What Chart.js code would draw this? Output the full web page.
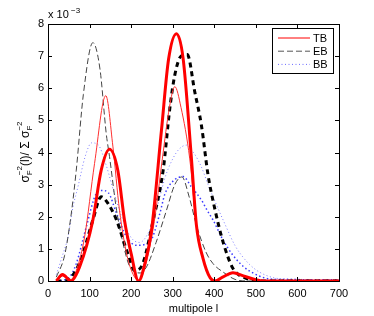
<!DOCTYPE html>
<html>
<head>
<meta charset="utf-8">
<script src="https://cdn.jsdelivr.net/npm/chart.js@4/dist/chart.umd.min.js"></script>
<style>
  body { margin: 0; background: #fff; }
  canvas { display: block; }
</style>
</head>
<body>
<canvas id="grafico" width="374" height="316"></canvas>
<script>
// multipole l values and sigma_F^-2 share (in units of 1e-3)
const tbThickL = [20, 35, 55, 76, 108, 128, 148, 168, 184, 200, 218, 233, 249, 273, 290, 309, 325, 345, 357, 373, 390, 402, 420, 445, 470, 500, 520, 700];
const tbThickV = [0, 0.2, 0, 0.44, 1.9, 3.45, 4.1, 3.44, 1.89, 0.85, 0, 0.54, 1.58, 4.7, 6.9, 7.7, 6.93, 3.82, 1.74, 0.7, 0.1, 0, 0.12, 0.26, 0.16, 0.04, 0, 0];

const tbThinL = [20, 35, 55, 70, 88, 112, 139, 156, 172, 190, 205, 218, 235, 255, 275, 292, 305, 320, 341, 357, 373, 390, 402, 420, 445, 470, 500, 520, 700];
const tbThinV = [0, 0.15, 0.05, 0.4, 1.37, 3.66, 5.77, 4.2, 2.2, 0.8, 0.2, 0.02, 0.5, 1.8, 3.8, 5.4, 6.05, 5.4, 3.8, 1.74, 0.7, 0.12, 0.02, 0.12, 0.25, 0.16, 0.04, 0, 0];

const ebThinL = [20, 40, 55, 68, 85, 108, 125, 140, 148, 165, 180, 197, 222, 237, 260, 285, 305, 322, 340, 357, 380, 397, 421, 450, 480, 700];
const ebThinV = [0.12, 0.8, 2.0, 3.45, 5.8, 7.42, 6.6, 4.6, 3.87, 2.2, 1.2, 0.44, 0.25, 0.44, 1.2, 2.2, 3.0, 3.24, 2.6, 1.74, 0.9, 0.54, 0.28, 0.05, 0, 0];

const ebThickL = [20, 40, 52, 70, 84, 108, 128, 145, 165, 192, 209, 228, 253, 277, 293, 305, 320, 335, 353, 369, 385, 401, 421, 445, 477, 500, 700];
const ebThickV = [0, 0, 0.07, 0.4, 0.85, 1.9, 2.62, 2.4, 1.89, 0.85, 0.33, 0.54, 1.89, 3.45, 5.37, 6.41, 7.0, 7.05, 5.89, 4.85, 3.3, 2.26, 1.22, 0.39, 0.08, 0, 0];

const bbUpperL = [20, 35, 48, 60, 72, 90, 105, 120, 140, 160, 180, 200, 220, 245, 265, 281, 300, 315, 333, 350, 369, 385, 401, 425, 450, 475, 500, 530, 560, 700];
const bbUpperV = [0.2, 0.8, 1.37, 2.3, 2.93, 3.9, 4.3, 4.25, 3.6, 2.7, 1.9, 1.35, 1.2, 1.6, 2.4, 3.2, 3.8, 4.1, 4.23, 4.0, 3.55, 3.0, 2.5, 1.79, 1.1, 0.65, 0.35, 0.15, 0.07, 0.04];

const bbLowerL = [20, 50, 68, 92, 116, 130, 145, 165, 189, 213, 245, 269, 281, 300, 325, 345, 369, 385, 397, 420, 445, 470, 493, 520, 550, 700];
const bbLowerV = [0, 0.1, 0.54, 1.68, 2.72, 2.82, 2.75, 2.1, 1.37, 1.11, 1.22, 2.1, 2.7, 3.1, 3.25, 2.93, 2.52, 2.15, 1.9, 1.3, 0.8, 0.45, 0.25, 0.1, 0.05, 0.04];

const xTicks = [0, 100, 200, 300, 400, 500, 600, 700];
const yTicks = [0, 1, 2, 3, 4, 5, 6, 7, 8];
const legendNames = ['TB', 'EB', 'BB'];

function pts(ls, vs) {
  return ls.map((l, i) => ({ x: l, y: vs[i] }));
}

const fuente = '"Liberation Sans", Arial, sans-serif';

function serie(ls, vs, color, width, dash) {
  return {
    data: pts(ls, vs),
    borderColor: color,
    borderWidth: width,
    borderDash: dash,
    pointRadius: 0,
    fill: false,
    cubicInterpolationMode: 'monotone'
  };
}

const marco = {
  id: 'marco',
  afterDatasetsDraw(chart) {
    const ctx = chart.ctx;
    const a = chart.chartArea;
    const sx = chart.scales.x, sy = chart.scales.y;
    ctx.save();
    ctx.strokeStyle = '#000';
    ctx.lineWidth = 1;
    ctx.beginPath();
    xTicks.forEach(t => {
      const px = Math.round(sx.getPixelForValue(t)) + 0.5;
      ctx.moveTo(px, a.bottom); ctx.lineTo(px, a.bottom - 4);
      ctx.moveTo(px, a.top); ctx.lineTo(px, a.top + 4);
    });
    yTicks.forEach(t => {
      const py = Math.round(sy.getPixelForValue(t)) + 0.5;
      ctx.moveTo(a.left, py); ctx.lineTo(a.left + 4, py);
      ctx.moveTo(a.right, py); ctx.lineTo(a.right - 4, py);
    });
    ctx.stroke();
    ctx.strokeRect(Math.round(a.left) + 0.5, Math.round(a.top) + 0.5, Math.round(a.right - a.left), Math.round(a.bottom - a.top));

    // legend
    const lx = 272.5, ly = 28.5, lw = 61, lh = 45;
    ctx.fillStyle = '#fff';
    ctx.fillRect(lx, ly, lw, lh);
    ctx.strokeRect(lx, ly, lw, lh);
    const estilos = [
      { c: '#ff0000', w: 1, d: [] },
      { c: '#555555', w: 1, d: [6, 3] },
      { c: '#6a6aff', w: 1, d: [1, 2.5] }
    ];
    ctx.font = '11px ' + fuente;
    ctx.textBaseline = 'middle';
    legendNames.forEach((n, i) => {
      const y = 38 + i * 13.2;
      ctx.beginPath();
      ctx.strokeStyle = estilos[i].c;
      ctx.lineWidth = estilos[i].w;
      ctx.setLineDash(estilos[i].d);
      ctx.moveTo(278, y); ctx.lineTo(310, y);
      ctx.stroke();
      ctx.setLineDash([]);
      ctx.fillStyle = '#000';
      ctx.fillText(n, 313, y + 0.5);
    });

    // exponent label
    ctx.textBaseline = 'alphabetic';
    ctx.font = '11px ' + fuente;
    ctx.fillText('x 10', 48, 18);
    ctx.font = '8px ' + fuente;
    ctx.fillText('\u22123', 71, 13);

    // y axis title
    ctx.translate(28.5, 152);
    ctx.rotate(-Math.PI / 2);
    const partes = [
      ['\u03c3', 0], ['F', 1], ['(l)/ \u03a3 \u03c3', 0], ['F', 1]
    ];
    const sups = ['\u22122', '\u22122'];
    let total = 0;
    ctx.font = '12px ' + fuente;
    const wMain = s => { ctx.font = '12px ' + fuente; return ctx.measureText(s).width; };
    const wSmall = s => { ctx.font = '8px ' + fuente; return ctx.measureText(s).width; };
    total = wMain('\u03c3') + wSmall('\u22122') + wMain('(l)/ \u03a3 \u03c3') + wSmall('\u22122');
    let x = -total / 2;
    ctx.fillStyle = '#000';
    ctx.font = '12px ' + fuente;
    ctx.fillText('\u03c3', x, 0);
    x += wMain('\u03c3');
    ctx.font = '8px ' + fuente;
    ctx.fillText('\u22122', x, -7);
    ctx.fillText('F', x, 3);
    x += wSmall('\u22122');
    ctx.font = '12px ' + fuente;
    ctx.fillText('(l)/ \u03a3 \u03c3', x, 0);
    x += wMain('(l)/ \u03a3 \u03c3');
    ctx.font = '8px ' + fuente;
    ctx.fillText('\u22122', x, -7);
    ctx.fillText('F', x, 3);
    ctx.restore();
  }
};

const ctx = document.getElementById('grafico').getContext('2d');
new Chart(ctx, {
  type: 'line',
  data: {
    datasets: [
      serie(tbThickL, tbThickV, '#ff0000', 3, []),
      serie(tbThinL, tbThinV, '#ff3030', 1, []),
      serie(ebThickL, ebThickV, '#000000', 3, [5, 4]),
      serie(ebThinL, ebThinV, '#444444', 1, [6, 3]),
      serie(bbLowerL, bbLowerV, '#3a3aff', 1.5, [1.5, 2.5]),
      serie(bbUpperL, bbUpperV, '#7a7aff', 1, [1, 2.5])
    ]
  },
  options: {
    responsive: false,
    animation: false,
    layout: { padding: { top: 24, right: 35, left: 0, bottom: 0 } },
    plugins: { legend: { display: false }, tooltip: { enabled: false } },
    scales: {
      x: {
        type: 'linear',
        min: 0,
        max: 700,
        grid: { display: false, drawTicks: false },
        border: { display: false },
        afterBuildTicks: s => { s.ticks = xTicks.map(v => ({ value: v })); },
        afterFit: s => { s.height = 35; },
        ticks: { color: '#000', padding: 6, maxRotation: 0, font: { size: 11, family: fuente } },
        title: { display: true, text: 'multipole l', color: '#000', padding: { top: 1, bottom: 0 }, font: { size: 11, family: fuente } }
      },
      y: {
        min: 0,
        max: 8,
        grid: { display: false, drawTicks: false },
        border: { display: false },
        afterBuildTicks: s => { s.ticks = yTicks.map(v => ({ value: v })); },
        afterFit: s => { s.width = 48; },
        ticks: { color: '#000', padding: 4, font: { size: 11, family: fuente } }
      }
    }
  },
  plugins: [marco]
});
</script>
</body>
</html>
